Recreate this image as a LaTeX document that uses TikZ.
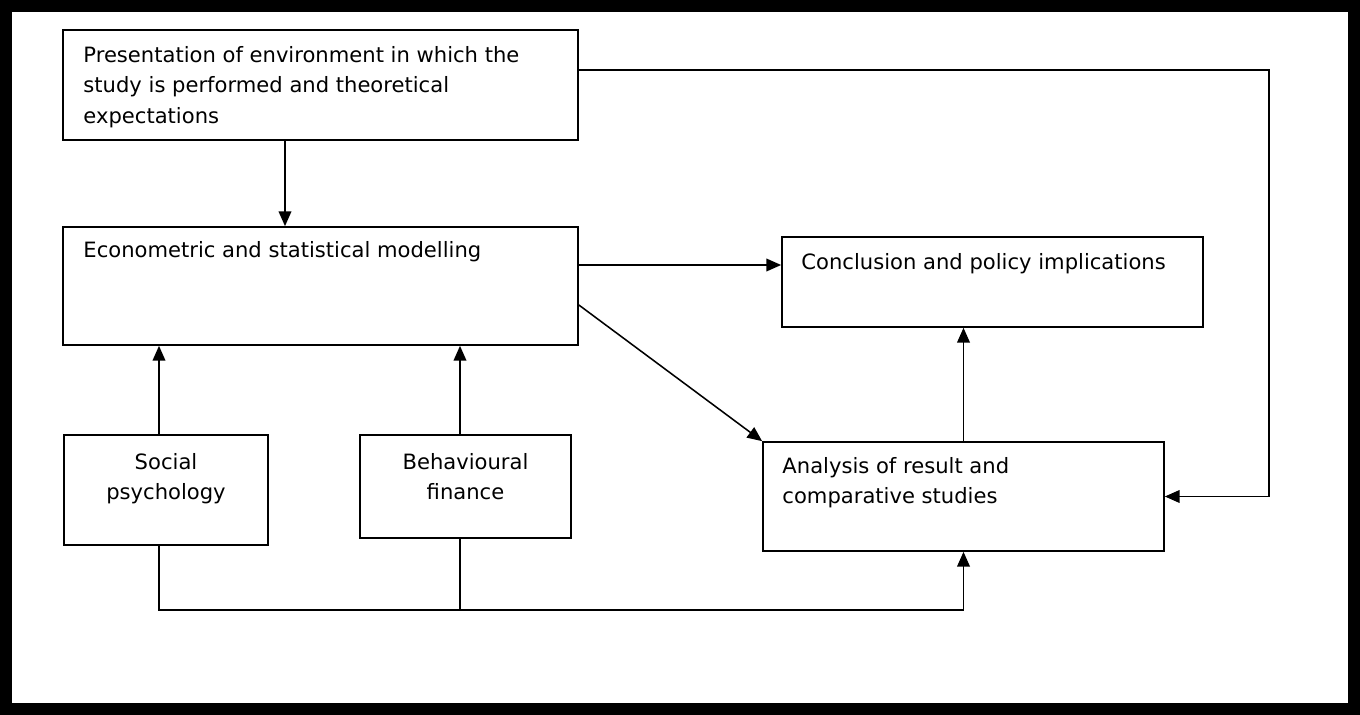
\documentclass[tikz,border=0pt]{standalone}
\usepackage{fontspec}
\setmainfont{DejaVu Sans}
\usepackage{tikz}
\usetikzlibrary{arrows.meta, positioning, calc, fit}

\begin{document}
\begin{tikzpicture}[
  x=0.025cm, y=-0.025cm,
  font=\fontsize{15}{21.6}\selectfont,
  box/.style={draw, line width=1.2pt, inner sep=0pt, rectangle},
  txt/.style={inner sep=0pt, align=left},
  ctxt/.style={inner sep=0pt, align=center},
  arrow/.style={-{Triangle[length=10.5pt, width=9pt]}, line width=1.1pt},
  link/.style={line width=1.1pt}
]
\useasboundingbox (0,0) rectangle (1360,715);
\draw[line width=8.5pt] (6,6) rectangle (1354,709);

% boxes
\node[box, fit={(63,30) (578,140)}] (pres) {};
\node[box, fit={(63,227) (578,345)}] (econ) {};
\node[box, fit={(782,237) (1203,327)}] (conc) {};
\node[box, fit={(763,442) (1164,551)}] (ana) {};
\node[box, fit={(64,435) (268,545)}] (soc) {};
\node[box, fit={(360,435) (571,538)}] (beh) {};

% texts
\node[txt, below right=0.425cm and 0.525cm of pres.north west] (pres-txt)
  {Presentation of environment in which the\\study is performed and theoretical\\expectations};
\node[txt, below right=0.375cm and 0.525cm of econ.north west] (econ-txt)
  {Econometric and statistical modelling};
\node[txt, below right=0.425cm and 0.5cm of conc.north west] (conc-txt)
  {Conclusion and policy implications};
\node[txt, below right=0.4cm and 0.5cm of ana.north west] (ana-txt)
  {Analysis of result and\\comparative studies};
\node[ctxt, below=0.475cm of soc.north] (soc-txt) {Social\\psychology};
\node[ctxt, below=0.475cm of beh.north] (beh-txt) {Behavioural\\finance};

% connectors
\coordinate (bus) at (0,610);
\draw[arrow] (285,0 |- pres.south) -- (285,0 |- econ.north);
\draw[arrow] (econ.east |- 0,265) -- (conc.west |- 0,265);
\draw[arrow] (econ.east |- 0,305) -- (ana.north west);
\draw[arrow] (ana.north) -- (ana.north |- conc.south);
\draw[arrow] (pres.east |- 0,70) -- ++(690,0) |- (ana.east);
\draw[arrow] (159,0 |- soc.north) -- (159,0 |- econ.south);
\draw[arrow] (460,0 |- beh.north) -- (460,0 |- econ.south);
\draw[arrow] (159,0 |- soc.south) -- (159,0 |- bus) -| (ana.south);
\draw[link] (460,0 |- beh.south) -- (460,0 |- bus);
\end{tikzpicture}
\end{document}
